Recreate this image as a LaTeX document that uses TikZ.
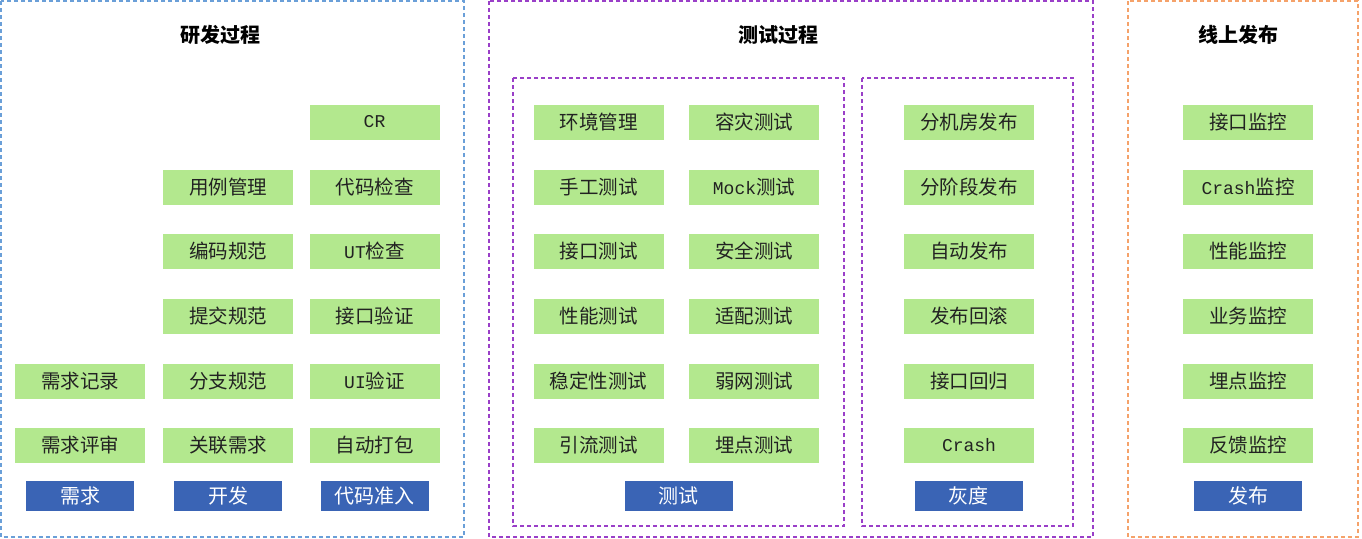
\documentclass[tikz,border=0pt]{standalone}
\usepackage{fontspec}
\setmainfont{Noto Sans CJK SC}
\newfontfamily\monolat{Liberation Mono}
\newcommand{\ml}[1]{{\fontsize{18}{18}\selectfont\monolat #1}}
\definecolor{gfill}{HTML}{B3E88E}
\definecolor{bfill}{HTML}{3A64B5}
\definecolor{dblue}{HTML}{6A9FD8}
\definecolor{dpurple}{HTML}{9A3FC8}
\definecolor{dorange}{HTML}{F5A26A}
\definecolor{gtext}{HTML}{222222}
\tikzset{
  gbox/.style={fill=gfill, draw=none, minimum width=130pt, minimum height=35pt, inner sep=0pt,
    text=gtext, font=\fontsize{19.5}{19.5}\selectfont},
  bbox/.style={fill=bfill, draw=none, minimum width=108pt, minimum height=30pt, inner sep=0pt,
    text=white, font=\fontsize{20}{20}\selectfont},
  hdr/.style={font=\fontsize{20}{20}\selectfont\bfseries, text=black},
  frame/.style={line width=1.2pt, dash pattern=on 4pt off 3pt},
}
\begin{document}
\begin{tikzpicture}[x=1pt,y=-1pt]
\useasboundingbox (0,0) rectangle (1362,538);
% frames
\draw[frame, dblue] (1,1) rectangle (464,537);
\draw[frame, dpurple] (489,1) rectangle (1093,537);
\draw[frame, dpurple] (513,78) rectangle (844,526);
\draw[frame, dpurple] (862,78) rectangle (1073,526);
\draw[frame, dorange] (1128,1) rectangle (1358,537);
% headers
\node[hdr] (h1) at (220,35) {研发过程};
\node[hdr] (h2) at (778,35) {测试过程};
\node[hdr] (h3) at (1238,35) {线上发布};
% dev column 1
\node[gbox] (r1) at (80,381) {需求记录};
\node[gbox] (r2) at (80,445) {需求评审};
\node[bbox] (b1) at (80,496) {需求};
% dev column 2
\node[gbox] (d1) at (228,187) {用例管理};
\node[gbox] (d2) at (228,251) {编码规范};
\node[gbox] (d3) at (228,316) {提交规范};
\node[gbox] (d4) at (228,381) {分支规范};
\node[gbox] (d5) at (228,445) {关联需求};
\node[bbox] (b2) at (228,496) {开发};
% dev column 3
\node[gbox] (c0) at (374.5,122) {\ml{CR}};
\node[gbox] (c1) at (374.5,187) {代码检查};
\node[gbox] (c2) at (374.5,251) {\ml{UT}检查};
\node[gbox] (c3) at (374.5,316) {接口验证};
\node[gbox] (c4) at (374.5,381) {\ml{UI}验证};
\node[gbox] (c5) at (374.5,445) {自动打包};
\node[bbox] (b3) at (374.5,496) {代码准入};
% testing
\node[gbox] (t1) at (598.5,122) {环境管理};
\node[gbox] (t2) at (598.5,187) {手工测试};
\node[gbox] (t3) at (598.5,251) {接口测试};
\node[gbox] (t4) at (598.5,316) {性能测试};
\node[gbox] (t5) at (598.5,381) {稳定性测试};
\node[gbox] (t6) at (598.5,445) {引流测试};
\node[gbox] (u1) at (754,122) {容灾测试};
\node[gbox] (u2) at (754,187) {\ml{Mock}测试};
\node[gbox] (u3) at (754,251) {安全测试};
\node[gbox] (u4) at (754,316) {适配测试};
\node[gbox] (u5) at (754,381) {弱网测试};
\node[gbox] (u6) at (754,445) {埋点测试};
\node[bbox] (b4) at (678.5,496) {测试};
% gray release
\node[gbox] (g1) at (969,122) {分机房发布};
\node[gbox] (g2) at (969,187) {分阶段发布};
\node[gbox] (g3) at (969,251) {自动发布};
\node[gbox] (g4) at (969,316) {发布回滚};
\node[gbox] (g5) at (969,381) {接口回归};
\node[gbox] (g6) at (969,445) {\ml{Crash}};
\node[bbox] (b5) at (968.5,496) {灰度};
% online
\node[gbox] (o1) at (1248,122) {接口监控};
\node[gbox] (o2) at (1248,187) {\ml{Crash}监控};
\node[gbox] (o3) at (1248,251) {性能监控};
\node[gbox] (o4) at (1248,316) {业务监控};
\node[gbox] (o5) at (1248,381) {埋点监控};
\node[gbox] (o6) at (1248,445) {反馈监控};
\node[bbox] (b6) at (1248,496) {发布};
\end{tikzpicture}
\end{document}
